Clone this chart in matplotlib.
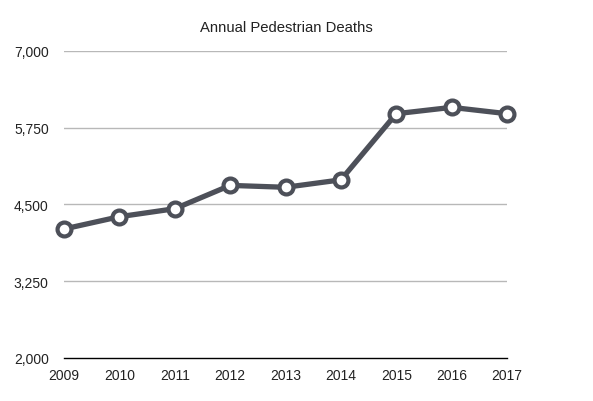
import matplotlib
matplotlib.use('Agg')
from matplotlib import pyplot as plt

anos = [2009, 2010, 2011, 2012, 2013, 2014, 2015, 2016, 2017]
mortes = [4100, 4300, 4430, 4810, 4779, 4900, 5977, 6080, 5977]
y_ticks = [2000, 3250, 4500, 5750, 7000]

plt.rcParams['font.family'] = ['Liberation Sans', 'DejaVu Sans']

fig = plt.figure(figsize=(5.93, 4.02), dpi=100)
ax = fig.add_axes([0.108, 0.107, 0.747, 0.764])

for y in y_ticks[1:]:
    ax.axhline(y=y, color='#b8b8b8', linewidth=1, zorder=1)

ax.plot(anos, mortes, color='#4d5059', linewidth=3.8, marker='o',
        markersize=10, markerfacecolor='white', markeredgecolor='#4d5059',
        markeredgewidth=3, clip_on=False, zorder=3)

ax.set_xlim(2009, 2017)
ax.set_ylim(2000, 7000)
ax.set_xticks(anos)
ax.set_yticks(y_ticks)
ax.set_yticklabels([f'{v:,}' for v in y_ticks])
ax.tick_params(length=0, labelsize=10, colors='#222222')
ax.tick_params(axis='x', pad=7)
ax.tick_params(axis='y', pad=11)

for lado in ['top', 'right', 'left']:
    ax.spines[lado].set_visible(False)
ax.spines['bottom'].set_color('black')
ax.spines['bottom'].set_linewidth(1.0)

fig.text(0.483, 0.93, 'Annual Pedestrian Deaths', ha='center', va='center',
         fontsize=10.7, color='#222222')

fig.savefig('out.png', dpi=100)
plt.close()
